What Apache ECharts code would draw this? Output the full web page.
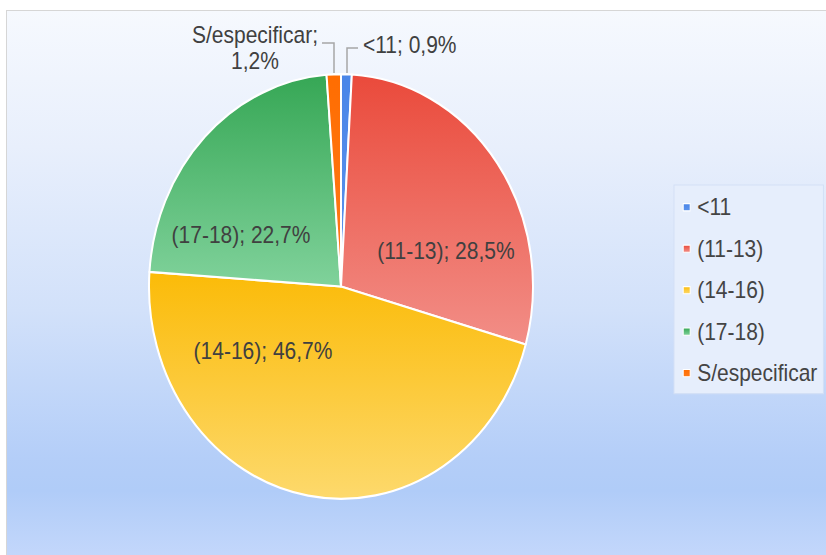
<!DOCTYPE html>
<html>
<head>
<meta charset="utf-8">
<script src="https://cdn.jsdelivr.net/npm/echarts@6/dist/echarts.min.js"></script>
<style>
  html, body { margin: 0; padding: 0; background: #ffffff; }
  #page { position: relative; width: 826px; height: 555px; overflow: hidden; background: #ffffff; }
  #panel { position: absolute; left: 6px; top: 10px; right: -2px; bottom: -2px;
           border: 1px solid #d6d6d6; box-sizing: border-box;
           background: linear-gradient(180deg, #f6f9fe 0%, #e8effc 25%, #d2e1fa 55%, #b4cef8 82%, #b0ccf8 88%, #c3d7fb 100%); }
  #chart { position: absolute; left: 0; top: 0; width: 826px; height: 502px;
           transform: scaleY(1.106); transform-origin: 0 0; }
</style>
</head>
<body>
<div id="page">
  <div id="panel"></div>
  <div id="chart"></div>
</div>
<script>
// ---- data ----
const categories = ['<11', '(11-13)', '(14-16)', '(17-18)', 'S/especificar'];
const values = [0.9, 28.5, 46.7, 22.7, 1.2];
const legendLabels = ['<11', '(11-13)', '(14-16)', '(17-18)', 'S/especificar'];

// ---- styling / layout ----
const SY = 1.106; // vertical stretch of the reference picture
const colors = [
  ['#4a86e8', '#5b93ec'],
  ['#ea4a3b', '#f28e87'],
  ['#fbbb08', '#fdd96c'],
  ['#36a755', '#80d29b'],
  ['#ff6d01', '#ff7a1a']
];
// label anchor points in page pixels
const labelAnchors = [
  { x: 363, y: 45, align: 'left' },
  { x: 446, y: 251, align: 'center' },
  { x: 263, y: 351, align: 'center' },
  { x: 241, y: 235, align: 'center' },
  { x: 255, y: 48, align: 'center' }
];
const leaderLines = {
  0: [[347, 73], [347, 48], [358, 48]],
  4: [[334, 73], [334, 43], [322, 43]]
};

function fmt(v) { return v.toFixed(1).replace('.', ','); }

const data = categories.map((c, i) => {
  const outside = !!leaderLines[i];
  const two = i === 4;
  return {
    name: c,
    value: values[i],
    itemStyle: {
      color: {
        type: 'linear', x: 0, y: 0, x2: 0, y2: 1,
        colorStops: [{ offset: 0, color: colors[i][0] }, { offset: 1, color: colors[i][1] }]
      }
    },
    label: {
      formatter: two ? c + ';\n' + fmt(values[i]) + '%' : c + '; ' + fmt(values[i]) + '%',
      lineHeight: two ? 24 : 21
    },
    labelLine: { show: outside }
  };
});

const chart = echarts.init(document.getElementById('chart'), null, { renderer: 'svg' });
chart.setOption({
  backgroundColor: 'transparent',
  animation: false,
  color: colors.map(c => c[0]),
  legend: {
    orient: 'vertical',
    left: 674,
    top: 185 / SY,
    data: legendLabels,
    icon: 'rect',
    itemWidth: 7,
    itemHeight: 6.5,
    itemGap: 16.5,
    padding: [9.6, 6, 8, 8.7],
    backgroundColor: '#e6eefc',
    borderColor: '#d3e0f6',
    borderWidth: 1,
    selectedMode: false,
    itemStyle: { borderColor: '#ffffff', borderWidth: 1 },
    textStyle: {
      fontFamily: '"Liberation Sans", Arial, sans-serif',
      fontSize: 21,
      lineHeight: 20,
      color: '#444444',
      padding: [0, 0, 0, 2]
    }
  },
  series: [{
    type: 'pie',
    center: [341, 286.5 / SY],
    radius: 192,
    startAngle: 90,
    clockwise: true,
    avoidLabelOverlap: false,
    itemStyle: { borderColor: '#ffffff', borderWidth: 2 },
    label: {
      show: true,
      position: 'outside',
      fontFamily: '"Liberation Sans", Arial, sans-serif',
      fontSize: 21,
      color: '#404040'
    },
    labelLine: {
      show: true,
      lineStyle: { color: '#a6a6a6', width: 1.5 }
    },
    emphasis: { disabled: true },
    labelLayout: function (p) {
      const a = labelAnchors[p.dataIndex];
      const out = { x: a.x, y: a.y / SY, align: a.align, verticalAlign: 'middle' };
      const ll = leaderLines[p.dataIndex];
      if (ll) out.labelLinePoints = ll.map(pt => [pt[0], pt[1] / SY]);
      return out;
    },
    data: data
  }]
});
</script>
</body>
</html>
